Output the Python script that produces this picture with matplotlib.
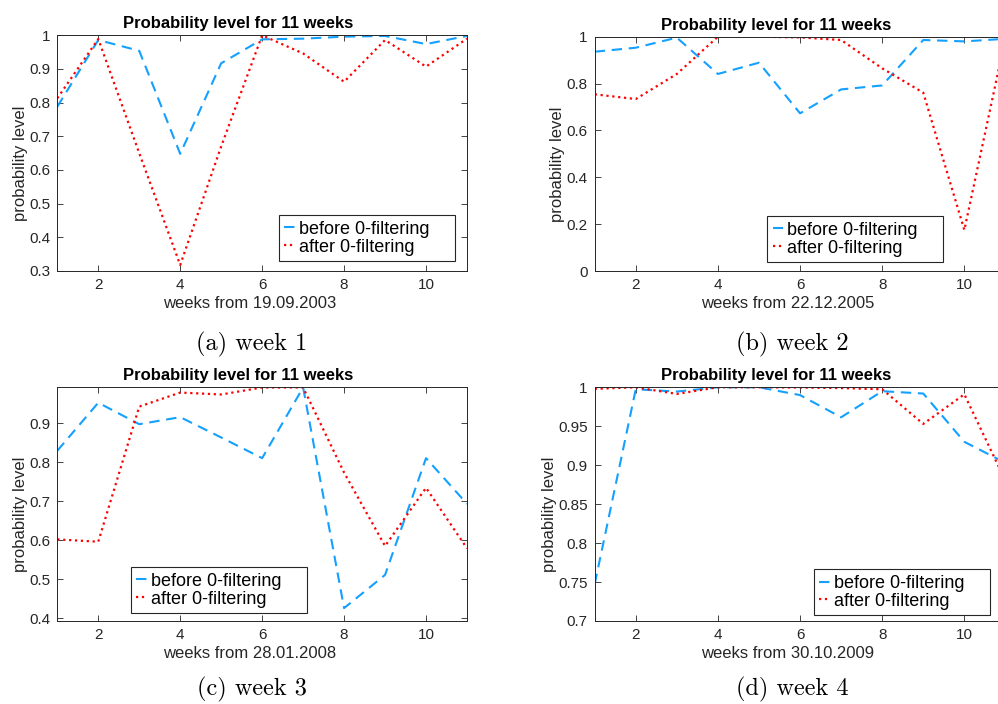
import matplotlib
matplotlib.use('Agg')
import matplotlib.pyplot as plt

plt.rcParams['font.family'] = ['Liberation Sans', 'DejaVu Sans']

weeks = list(range(1, 12))

# week 1 (from 19.09.2003)
before_1 = [0.788, 0.986, 0.954, 0.648, 0.917, 0.988, 0.990, 0.996, 0.998, 0.974, 0.998]
after_1 = [0.813, 0.989, 0.650, 0.318, 0.670, 1.000, 0.946, 0.862, 0.986, 0.907, 0.990]

# week 2 (from 22.12.2005)
before_2 = [0.936, 0.953, 0.996, 0.841, 0.889, 0.673, 0.775, 0.792, 0.986, 0.980, 0.991]
after_2 = [0.754, 0.734, 0.841, 1.000, 1.000, 0.997, 0.986, 0.865, 0.761, 0.175, 0.995]

# week 3 (from 28.01.2008)
before_3 = [0.829, 0.952, 0.897, 0.915, 0.863, 0.810, 0.991, 0.426, 0.511, 0.810, 0.693]
after_3 = [0.602, 0.596, 0.942, 0.978, 0.973, 0.991, 0.991, 0.773, 0.585, 0.734, 0.579]

# week 4 (from 30.10.2009)
before_4 = [0.7475, 0.9975, 0.9945, 1.000, 1.000, 0.990, 0.9615, 0.995, 0.992, 0.930, 0.903]
after_4 = [0.998, 1.000, 0.9915, 1.000, 1.000, 0.9997, 0.999, 0.9975, 0.953, 0.991, 0.880]

start_dates = ['19.09.2003', '22.12.2005', '28.01.2008', '30.10.2009']
captions = ['(a) week 1', '(b) week 2', '(c) week 3', '(d) week 4']
ylims = [(0.3, 1.0), (0.0, 1.0), (0.393, 0.993), (0.7, 1.0)]
yticks = [[0.3, 0.4, 0.5, 0.6, 0.7, 0.8, 0.9, 1.0],
          [0, 0.2, 0.4, 0.6, 0.8, 1.0],
          [0.4, 0.5, 0.6, 0.7, 0.8, 0.9],
          [0.7, 0.75, 0.8, 0.85, 0.9, 0.95, 1.0]]
before = [before_1, before_2, before_3, before_4]
after = [after_1, after_2, after_3, after_4]

W, H = 998, 704
fig = plt.figure(figsize=(W / 100, H / 100), dpi=100)

# axes boxes in pixels: left, top, right, bottom
boxes = [(57.3, 35.3, 467.0, 271.0),
         (594.7, 36.7, 1005.4, 271.0),
         (57.3, 386.7, 467.0, 621.0),
         (594.7, 387.3, 1005.4, 621.0)]
leg_pos = [(0.541, 0.042), (0.42, 0.038), (0.18, 0.034), (0.534, 0.025)]
cap_pos = [(252, 344), (792, 344), (252, 689), (792, 689)]

BLUE = '#14a0ff'
RED = '#ff0000'
GREY = '#262626'

for i in range(4):
    l, t, r, b = boxes[i]
    ax = fig.add_axes([l / W, 1 - b / H, (r - l) / W, (b - t) / H])
    h1, = ax.plot(weeks, before[i], '--', color=BLUE, lw=1.5, dashes=(5, 3.2))
    h2, = ax.plot(weeks, after[i], ':', color=RED, lw=1.6)
    ax.set_xlim(1, 11)
    ax.set_ylim(*ylims[i])
    ax.set_xticks([2, 4, 6, 8, 10])
    ax.set_yticks(yticks[i])
    ax.set_yticklabels(['%g' % v for v in yticks[i]])
    ax.tick_params(direction='in', top=True, right=True, length=4, width=0.6,
                   colors=GREY, labelsize=11)
    ax.tick_params(axis='x', pad=5)
    ax.tick_params(axis='y', pad=5)
    for s in ax.spines.values():
        s.set_color(GREY)
        s.set_linewidth(0.7)
    ax.set_title('Probability level for 11 weeks', fontsize=12, weight='bold',
                 pad=5, x=0.441)
    ax.set_xlabel('weeks from ' + start_dates[i], fontsize=12, color=GREY,
                  labelpad=3, x=0.47)
    ax.set_ylabel('probability level', fontsize=12, color=GREY,
                  labelpad=1, y=0.455)
    leg = ax.legend([h1, h2], ['before 0-filtering    ', 'after 0-filtering'],
                    loc='lower left', bbox_to_anchor=leg_pos[i], borderaxespad=0,
                    fontsize=13, frameon=True, fancybox=False, framealpha=1,
                    handlelength=0.6, handletextpad=0.2, labelspacing=0.05,
                    borderpad=0.3)
    leg.get_frame().set_edgecolor(GREY)
    leg.get_frame().set_linewidth(0.8)
    cx, cy = cap_pos[i]
    fig.text(cx / W, 1 - cy / H, captions[i], ha='center', va='center',
             fontsize=17.5, family='cmr10')

fig.savefig('out.png', dpi=100, facecolor='white')
